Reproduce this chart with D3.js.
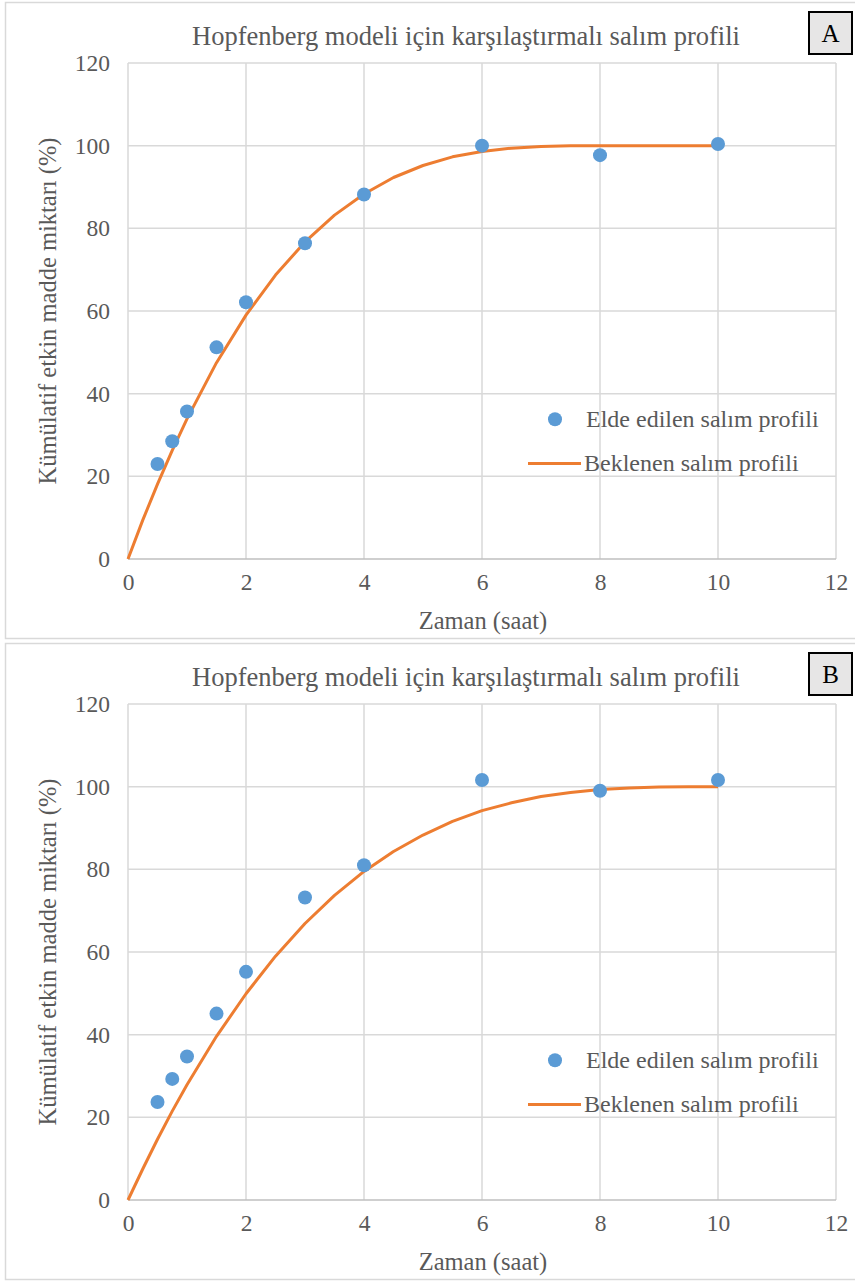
<!DOCTYPE html>
<html>
<head>
<meta charset="utf-8">
<script src="https://cdn.jsdelivr.net/npm/d3@7"></script>
<style>
  html, body { margin: 0; padding: 0; background: #fff; }
  svg text { font-family: "Liberation Serif", "Times New Roman", serif; fill: #595959; }
</style>
</head>
<body>
<svg id="chart" width="855" height="1284"></svg>
<script>
// Shared axis ticks
const xTicks = [0, 2, 4, 6, 8, 10, 12];
const yTicks = [0, 20, 40, 60, 80, 100, 120];

// Sampling times (h) and cumulative release (%)
const obsTime = [0.5, 0.75, 1, 1.5, 2, 3, 4, 6, 8, 10];
const obsA = [23.0, 28.5, 35.7, 51.2, 62.1, 76.4, 88.2, 100.0, 97.7, 100.4];
const obsB = [23.7, 29.3, 34.7, 45.1, 55.2, 73.2, 81.0, 101.6, 99.0, 101.6];

// Hopfenberg model curve points
const fitTime = [0, 0.25, 0.5, 0.75, 1, 1.5, 2, 2.5, 3, 3.5, 4, 4.5, 5, 5.5, 6, 6.5, 7, 7.5, 8, 8.5, 9, 9.5, 10];
const fitA = [0, 9.4, 18.1, 26.3, 33.9, 47.5, 59.0, 68.7, 76.7, 83.2, 88.3, 92.3, 95.2, 97.3, 98.6, 99.4, 99.8, 100, 100, 100, 100, 100, 100];
const fitB = [0, 7.5, 14.7, 21.5, 27.9, 39.6, 49.9, 59.0, 66.9, 73.7, 79.5, 84.3, 88.3, 91.6, 94.2, 96.1, 97.6, 98.6, 99.3, 99.7, 99.9, 100, 100];

const panelLabels = ["A", "B"];
const chartTitle = "Hopfenberg modeli için karşılaştırmalı salım profili";
const xTitle = "Zaman (saat)";
const yTitle = "Kümülatif etkin madde miktarı (%)";
const legendLabels = ["Elde edilen salım profili", "Beklenen salım profili"];

const svg = d3.select("#chart");
const blue = "#5b9bd5", orange = "#ed7d31", grid = "#d9d9d9";
const serif = '"Liberation Serif", "Times New Roman", serif';

function drawPanel(top, label, obs, fit) {
  const g = svg.append("g").attr("transform", `translate(0,${top})`);
  const plot = { left: 128, right: 836, top: 61, bottom: 557 };

  // panel frame
  g.append("rect").attr("x", 5.5).attr("y", 0.5).attr("width", 855).attr("height", 636)
    .attr("fill", "#fff").attr("stroke", grid).attr("stroke-width", 1.5);

  const x = d3.scaleLinear().domain([0, 12]).range([plot.left, plot.right]);
  const y = d3.scaleLinear().domain([0, 120]).range([plot.bottom, plot.top]);

  // gridlines
  g.append("g").selectAll("line.h").data(yTicks.filter(d => d > 0)).join("line")
    .attr("x1", plot.left).attr("x2", plot.right)
    .attr("y1", d => y(d)).attr("y2", d => y(d))
    .attr("stroke", grid).attr("stroke-width", 1.5);
  g.append("g").selectAll("line.v").data(xTicks).join("line")
    .attr("x1", d => x(d)).attr("x2", d => x(d))
    .attr("y1", plot.top).attr("y2", plot.bottom)
    .attr("stroke", grid).attr("stroke-width", 1.5);
  // x axis baseline
  g.append("line").attr("x1", plot.left).attr("x2", plot.right)
    .attr("y1", y(0)).attr("y2", y(0)).attr("stroke", "#bfbfbf").attr("stroke-width", 1.5);

  // tick labels via d3 axes
  const xa = g.append("g").attr("transform", `translate(0,${plot.bottom})`)
    .call(d3.axisBottom(x).tickValues(xTicks).tickSize(0).tickPadding(12));
  const ya = g.append("g").attr("transform", `translate(${plot.left},0)`)
    .call(d3.axisLeft(y).tickValues(yTicks).tickSize(0).tickPadding(18));
  [xa, ya].forEach(a => {
    a.select(".domain").remove();
    a.selectAll("text").attr("font-size", 23.5).attr("fill", "#595959")
      .style("font-family", serif);
  });
  xa.selectAll("text").attr("dy", "0.8em");

  // titles
  g.append("text").attr("x", 466).attr("y", 43).attr("text-anchor", "middle")
    .attr("font-size", 26.5).text(chartTitle);
  g.append("text").attr("x", 483).attr("y", 627)
    .attr("text-anchor", "middle").attr("font-size", 24.5).text(xTitle);
  g.append("text").attr("transform", `translate(56,${(plot.top + plot.bottom) / 2}) rotate(-90)`)
    .attr("text-anchor", "middle").attr("font-size", 24.5).text(yTitle);

  // model curve
  const line = d3.line().x((d, i) => x(fitTime[i])).y(d => y(d));
  g.append("path").datum(fit).attr("d", line).attr("fill", "none")
    .attr("stroke", orange).attr("stroke-width", 3).attr("stroke-linejoin", "round");

  // observed points
  g.append("g").selectAll("circle").data(obs).join("circle")
    .attr("cx", (d, i) => x(obsTime[i])).attr("cy", d => y(d)).attr("r", 7)
    .attr("fill", blue);

  // legend
  const legY1 = y(33.8), legY2 = y(23.1);
  g.append("circle").attr("cx", 555).attr("cy", legY1).attr("r", 7).attr("fill", blue);
  g.append("text").attr("x", 586).attr("y", legY1).attr("dy", "0.33em")
    .attr("font-size", 24).text(legendLabels[0]);
  g.append("line").attr("x1", 528).attr("x2", 581).attr("y1", legY2).attr("y2", legY2)
    .attr("stroke", orange).attr("stroke-width", 3);
  g.append("text").attr("x", 584).attr("y", legY2).attr("dy", "0.33em")
    .attr("font-size", 24).text(legendLabels[1]);

  // panel label box
  g.append("rect").attr("x", 809).attr("y", 10).attr("width", 43).attr("height", 42)
    .attr("fill", "#e7e6e6").attr("stroke", "#000").attr("stroke-width", 2);
  g.append("text").attr("x", 830.5).attr("y", 31).attr("dy", "0.35em")
    .attr("text-anchor", "middle").attr("font-size", 25).style("fill", "#000").text(label);
}

drawPanel(2, panelLabels[0], obsA, fitA);
drawPanel(643, panelLabels[1], obsB, fitB);
</script>
</body>
</html>
